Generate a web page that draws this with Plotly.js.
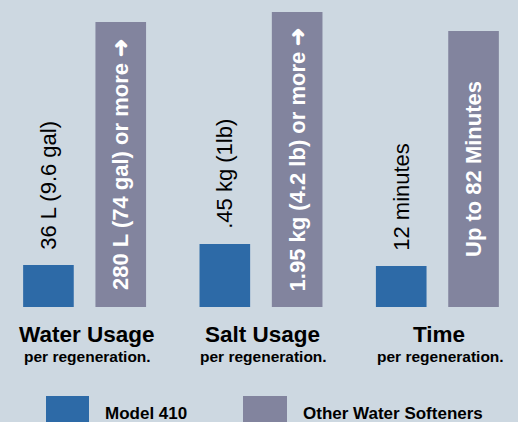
<!DOCTYPE html>
<html>
<head>
<meta charset="utf-8">
<script src="https://cdn.plot.ly/plotly-3.0.1.min.js"></script>
<style>
  html, body { margin: 0; padding: 0; background: #cdd8e1; }
  #chart { width: 518px; height: 422px; }
</style>
</head>
<body>
<div id="chart"></div>
<script>
// Categories and labels
var categories = ["Water Usage", "Salt Usage", "Time"];
var subtitles = ["per regeneration.", "per regeneration.", "per regeneration."];
var seriesNames = ["Model 410", "Other Water Softeners"];

// Relative bar heights (chart is not to scale)
var model410Values = [42, 63, 41];
var otherValues = [285, 295, 276];

// Bar labels
var model410Labels = ["36 L (9.6 gal)", ".45 kg (1lb)", "12 minutes"];
var otherLabels = ["280 L (74 gal) or more \u279C", "1.95 kg (4.2 lb) or more \u279C", "Up to 82 Minutes"];

var BG = "#cdd8e1";
var BLUE = "#2d6aa7";
var GRAY = "#82849e";
var FONT = "Arial, 'Liberation Sans', sans-serif";

var traces = [
  {
    type: "bar",
    name: seriesNames[0],
    x: categories,
    y: model410Values,
    text: model410Labels.map(function (t) { return "\u00a0\u00a0" + t; }),
    textposition: "outside",
    textangle: -90,
    constraintext: "none",
    textfont: { family: FONT, size: 22, color: "#000000" },
    outsidetextfont: { family: FONT, size: 22, color: "#000000" },
    marker: { color: BLUE },
    cliponaxis: false,
    hoverinfo: "none"
  },
  {
    type: "bar",
    name: seriesNames[1],
    x: categories,
    y: otherValues,
    text: otherLabels,
    textposition: "inside",
    insidetextanchor: "middle",
    textangle: -90,
    constraintext: "none",
    textfont: { family: FONT, size: 22, color: "#ffffff", weight: "bold" },
    insidetextfont: { family: FONT, size: 22, color: "#ffffff", weight: "bold" },
    marker: { color: GRAY },
    cliponaxis: false,
    hoverinfo: "none"
  }
];

var W = 518;
var plotH = 307;

function py(pixY) { return (plotH - pixY) / plotH; }

var annotations = [];
categories.forEach(function (c, i) {
  annotations.push({
    x: c, xref: "x", y: 0, yref: "paper",
    xanchor: "center", yanchor: "top", yshift: -14, xshift: 2,
    text: "<b>" + c + "</b>", showarrow: false, borderpad: 0,
    font: { family: FONT, size: 22.5, color: "#000000" }
  });
  annotations.push({
    x: c, xref: "x", y: 0, yref: "paper",
    xanchor: "center", yanchor: "top", yshift: -40, xshift: 3,
    text: "<b>" + subtitles[i] + "</b>", showarrow: false, borderpad: 0,
    font: { family: FONT, size: 15.5, color: "#000000" }
  });
});

// Legend (custom, large swatches)
var legendSpec = [
  { name: seriesNames[0], color: BLUE, sx0: 46, sx1: 89, tx: 104 },
  { name: seriesNames[1], color: GRAY, sx0: 243, sx1: 287, tx: 302 }
];
var shapes = [];
legendSpec.forEach(function (l) {
  shapes.push({
    type: "rect", xref: "paper", yref: "paper",
    x0: l.sx0 / W, x1: l.sx1 / W, y0: py(396), y1: py(432),
    fillcolor: l.color, line: { width: 0 }
  });
  annotations.push({
    x: l.tx / W, xref: "paper", y: 0, yref: "paper",
    xanchor: "left", yanchor: "top", yshift: -96, borderpad: 0,
    text: "<b>" + l.name + "</b>", showarrow: false,
    font: { family: FONT, size: 17, color: "#000000" }
  });
});

var layout = {
  width: 518, height: 422,
  margin: { l: 0, r: 0, t: 0, b: 422 - plotH, pad: 0 },
  paper_bgcolor: BG, plot_bgcolor: BG,
  showlegend: false,
  barmode: "group",
  bargap: 0.18,
  bargroupgap: 0.3,
  xaxis: {
    type: "category",
    range: [-0.4796, 2.457],
    showticklabels: false, showgrid: false, zeroline: false, showline: false,
    ticks: "", fixedrange: true
  },
  yaxis: {
    range: [0, plotH],
    showticklabels: false, showgrid: false, zeroline: false, showline: false,
    ticks: "", fixedrange: true
  },
  annotations: annotations,
  shapes: shapes,
  font: { family: FONT }
};

Plotly.newPlot("chart", traces, layout, { staticPlot: true, displayModeBar: false });
</script>
</body>
</html>
